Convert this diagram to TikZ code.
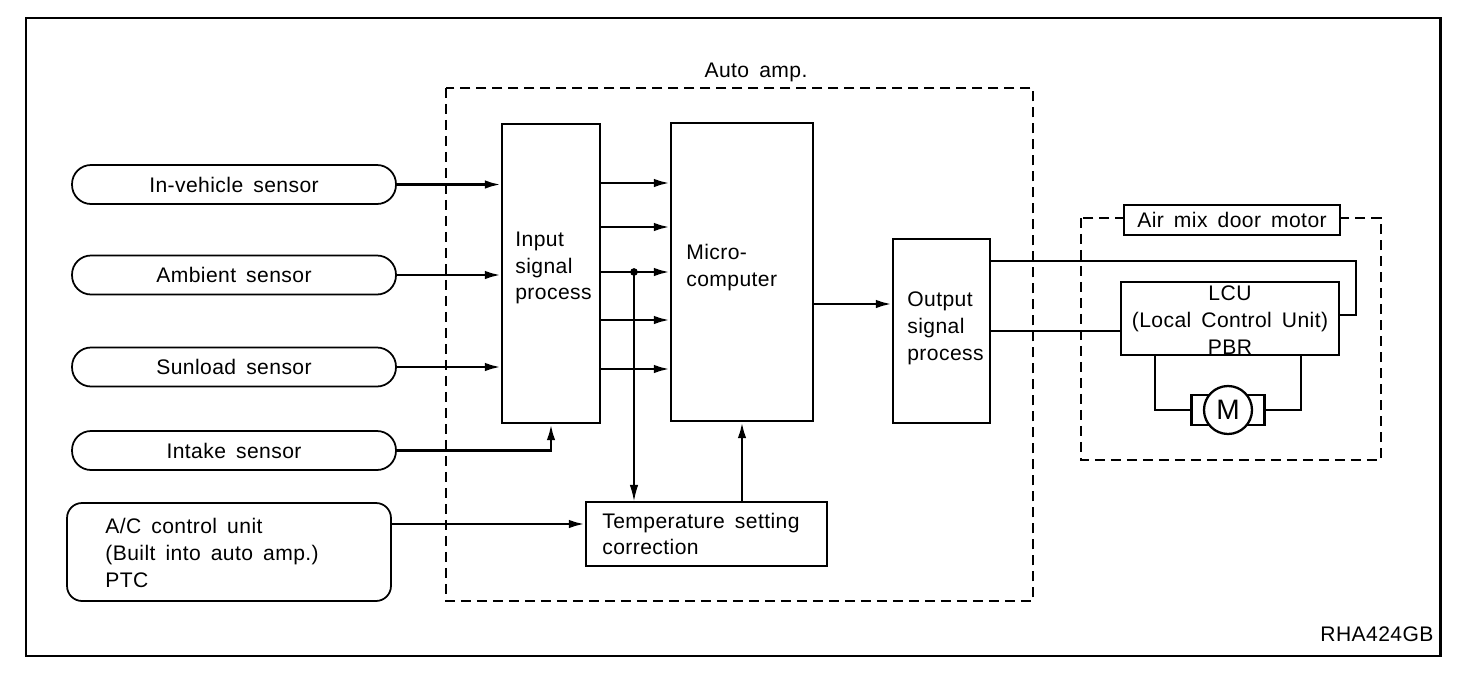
\documentclass[tikz,border=0pt]{standalone}
\usepackage{fontspec}
\setmainfont{Liberation Sans}[WordSpace=1.6, LetterSpace=2]
\usetikzlibrary{calc,arrows.meta}

\tikzset{
  blk/.style={draw, line width=1.3pt, inner sep=0pt},
  sensor/.style={draw, line width=1pt, rounded corners=0.38cm, minimum width=6.48cm, minimum height=0.78cm, inner sep=0pt},
  txt/.style={anchor=west, align=left, inner sep=0pt},
  sig/.style={line width=1.5pt, -{Latex[length=0.32cm,width=0.17cm]}},
  thinsig/.style={line width=0.6pt, -{Latex[length=0.32cm,width=0.17cm]}},
  wire/.style={line width=0.6pt},
  dashbox/.style={line width=1pt, dash pattern=on 0.2cm off 0.12cm},
}

\begin{document}
\begin{tikzpicture}[x=0.02cm, y=-0.02cm, font=\fontsize{12}{15.3}\selectfont]
    \useasboundingbox (0,0) rectangle (1472,700);
    % Outer frame
    \draw[line width=1.7pt] (26,18) rectangle (1440,656);
    \node[inner sep=0pt] (code) at (1377,634) {RHA424GB};

    % Define the sensors on the left
    \node[sensor] (ivs) at (234,184.5) {In-vehicle sensor};
    \node[sensor] (amb) at (234,275) {Ambient sensor};
    \node[sensor] (sun) at (234,367) {Sunload sensor};
    \node[sensor] (itk) at (234,450.5) {Intake sensor};
    \node[sensor, rounded corners=0.3cm, minimum height=1.96cm] (acu) at (229,552) {};
    \node[txt] (acutxt) at (105,553) {A/C control unit\\(Built into auto amp.)\\PTC};

    % Auto amp.
    \draw[dashbox] (446,88) rectangle (1033,601);
    \node[inner sep=0pt] (aalbl) at (756,72) {Auto amp.};
    \node[blk, minimum width=1.96cm, minimum height=5.98cm] (isp) at (551,273.5) {};
    \node[txt] (isptxt) at (515,268) {Input\\signal\\process};
    \node[blk, minimum width=2.84cm, minimum height=5.96cm] (mc) at (742,272) {};
    \node[txt] (mctxt) at (686,267.5) {Micro-\\computer};
    \node[blk, minimum width=1.94cm, minimum height=3.68cm] (osp) at (941.5,331) {};
    \node[txt] (osptxt) at (907,328.5) {Output\\signal\\process};
    \node[blk, minimum width=4.82cm, minimum height=1.28cm] (tsc) at (706.5,534) {};
    \node[txt] (tsctxt) at (602,534) {Temperature setting\\correction};

    % Air mix door motor
    \draw[dashbox] (1081,218) rectangle (1381,460);
    \node[blk, fill=white, minimum width=4.32cm, minimum height=0.6cm] (amlbl) at (1232,220) {Air mix door motor};
    \node[blk, minimum width=4.36cm, minimum height=1.46cm] (lcu) at (1230,318.5) {};
    \node[align=center, inner sep=0pt] (lcutxt) at (1230,320) {LCU\\(Local Control Unit)\\PBR};
    \node[blk, minimum width=1.46cm, minimum height=0.6cm] (mot) at (1228,410) {};
    \node[blk, circle, fill=white, minimum size=0.96cm, font=\fontsize{16}{18}\selectfont] (mtr) at (1228,410) {M};

    % Sensors to input signal process
    \draw[sig] (ivs.east) -- (ivs.east -| isp.west);
    \draw[sig] (amb.east) -- (amb.east -| isp.west);
    \draw[sig] (sun.east) -- (sun.east -| isp.west);
    \draw[sig] (itk.east) -| (isp.south);
    \draw[sig] (acu.east |- 0,524) -- (tsc.west |- 0,524);

    % Input signal process to micro-computer
    \foreach \y in {183,227,272,320,369}
        \draw[sig] (isp.east |- 0,\y) -- (mc.west |- 0,\y);
    \coordinate (tap) at (634,272);
    \fill (tap) circle (2.2pt);
    \draw[thinsig] (tap) -- (tap |- tsc.north);
    \draw[sig] (tsc.north -| mc.south) -- (mc.south);
    \draw[sig] (mc.east |- 0,304) -- (osp.west |- 0,304);

    % Output signal process to the motor
    \coordinate (fb) at (1356,261);
    \draw[line width=1.3pt] (osp.east |- fb) -- (fb) -- (fb |- 0,315) -- (lcu.east |- 0,315);
    \draw[wire] (osp.east) -- (osp.east -| lcu.west);
    \draw[wire] (lcu.south -| 1155,0) |- (mot.west);
    \draw[wire] (lcu.south -| 1301,0) |- (mot.east);
\end{tikzpicture}
\end{document}
